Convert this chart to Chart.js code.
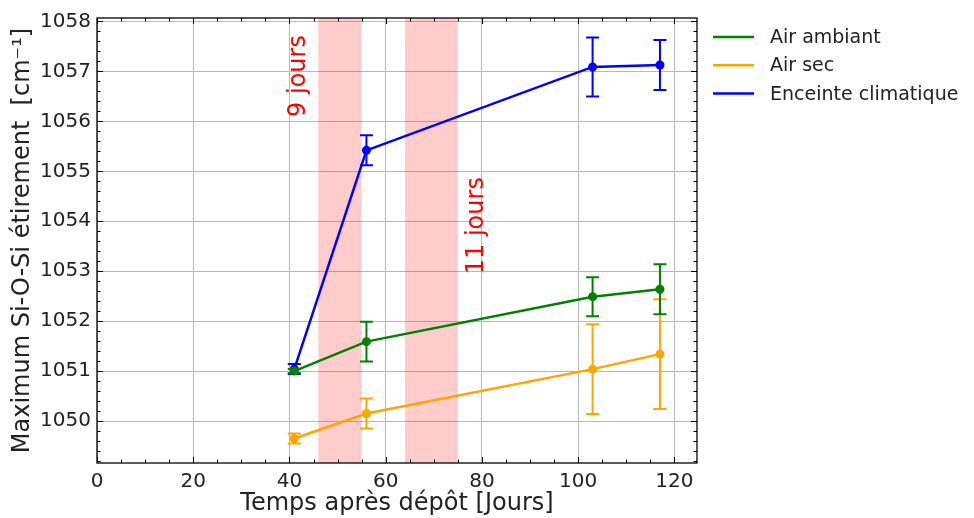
<!DOCTYPE html>
<html>
<head>
<meta charset="utf-8">
<script src="https://cdn.jsdelivr.net/npm/chart.js@4"></script>
<style>body{margin:0;background:#fff}</style>
</head>
<body>
<canvas id="canvas" width="974" height="518"></canvas>
<script>
// data
var days = [41, 56, 103, 117];
var airAmbiant = [1051.0, 1051.59, 1052.49, 1052.64];
var airAmbiantErr = [0.04, 0.4, 0.39, 0.5];
var airSec = [1049.65, 1050.15, 1051.04, 1051.34];
var airSecErr = [0.1, 0.3, 0.9, 1.1];
var enceinte = [1051.04, 1055.42, 1057.09, 1057.13];
var enceinteErr = [0.1, 0.3, 0.59, 0.5];
var seriesNames = ['Air ambiant', 'Air sec', 'Enceinte climatique'];
var seriesColors = ['green', 'orange', 'blue'];
var spans = [[46, 55], [64, 75]];
var spanLabels = ['9 jours', '11 jours'];
var spanLabelX = [43.3, 80.3];
var spanLabelY = [1056.09, 1052.94];

var FONT = '"DejaVu Sans", sans-serif';

function points(ys){
    return days.map(function(d, i){ return {x: d, y: ys[i]}; });
}
function makeSet(i, ys, errs){
    return {
        label: seriesNames[i],
        data: points(ys),
        errors: errs,
        showLine: true,
        borderColor: seriesColors[i],
        backgroundColor: seriesColors[i],
        borderWidth: 2.5,
        pointRadius: 4.5,
        pointBorderWidth: 0,
        pointBackgroundColor: seriesColors[i]
    };
}

// shaded day ranges + labels
var spanPlugin = {
    id: 'spans',
    beforeDatasetsDraw: function(chart){
        var ctx = chart.ctx, xs = chart.scales.x, a = chart.chartArea;
        ctx.save();
        ctx.fillStyle = 'rgba(255,0,0,0.2)';
        spans.forEach(function(s){
            var x0 = xs.getPixelForValue(s[0]), x1 = xs.getPixelForValue(s[1]);
            ctx.fillRect(x0, a.top, x1 - x0, a.bottom - a.top);
        });
        ctx.fillStyle = 'red';
        ctx.font = '24px ' + FONT;
        ctx.textAlign = 'left';
        ctx.textBaseline = 'alphabetic';
        spanLabels.forEach(function(t, i){
            ctx.save();
            ctx.translate(xs.getPixelForValue(spanLabelX[i]), chart.scales.y.getPixelForValue(spanLabelY[i]));
            ctx.rotate(-Math.PI / 2);
            ctx.fillText(t, 0, 0);
            ctx.restore();
        });
        ctx.restore();
    }
};

// error bars with caps
var errorPlugin = {
    id: 'errbars',
    afterDatasetDraw: function(chart, args){
        var ds = chart.data.datasets[args.index];
        var meta = args.meta, ys = chart.scales.y, ctx = chart.ctx;
        ctx.save();
        ctx.strokeStyle = ds.borderColor;
        ctx.lineWidth = 2;
        ds.data.forEach(function(p, i){
            var x = meta.data[i].x;
            var top = ys.getPixelForValue(p.y + ds.errors[i]);
            var bot = ys.getPixelForValue(p.y - ds.errors[i]);
            ctx.beginPath();
            ctx.moveTo(x, top); ctx.lineTo(x, bot);
            ctx.moveTo(x - 6.5, top); ctx.lineTo(x + 6.5, top);
            ctx.moveTo(x - 6.5, bot); ctx.lineTo(x + 6.5, bot);
            ctx.stroke();
        });
        ctx.restore();
    }
};

// frame, inward ticks (major + minor) on all sides, legend
var framePlugin = {
    id: 'frame',
    afterDraw: function(chart){
        var ctx = chart.ctx, a = chart.chartArea, xs = chart.scales.x, ys = chart.scales.y;
        ctx.save();
        ctx.strokeStyle = '#000';
        ctx.lineWidth = 1;
        ctx.beginPath();
        for (var v = 0; v <= xs.max; v += 5){
            var px = Math.round(xs.getPixelForValue(v)) + 0.5;
            var len = (v % 20 === 0) ? 6 : 3.5;
            ctx.moveTo(px, a.bottom); ctx.lineTo(px, a.bottom - len);
            ctx.moveTo(px, a.top); ctx.lineTo(px, a.top + len);
        }
        for (var k = Math.ceil(ys.min * 5); k <= ys.max * 5; k++){
            var py = Math.round(ys.getPixelForValue(k / 5)) + 0.5;
            var l2 = (k % 5 === 0) ? 6 : 3.5;
            ctx.moveTo(a.left, py); ctx.lineTo(a.left + l2, py);
            ctx.moveTo(a.right, py); ctx.lineTo(a.right - l2, py);
        }
        ctx.stroke();
        ctx.lineWidth = 1.3;
        ctx.strokeRect(a.left, a.top, a.right - a.left, a.bottom - a.top);

        // legend outside, right
        ctx.font = '19px ' + FONT;
        ctx.textBaseline = 'middle';
        ctx.textAlign = 'left';
        chart.data.datasets.forEach(function(ds, i){
            var y = 37 + i * 28.3;
            ctx.strokeStyle = ds.borderColor;
            ctx.lineWidth = 2.5;
            ctx.beginPath();
            ctx.moveTo(713, y); ctx.lineTo(754, y);
            ctx.stroke();
            ctx.fillStyle = '#222';
            ctx.fillText(ds.label, 770, y + 1);
        });
        ctx.restore();
    }
};

Chart.defaults.font.family = FONT;

new Chart(document.getElementById('canvas'), {
    type: 'scatter',
    data: {
        datasets: [
            makeSet(0, airAmbiant, airAmbiantErr),
            makeSet(1, airSec, airSecErr),
            makeSet(2, enceinte, enceinteErr)
        ]
    },
    options: {
        responsive: false,
        animation: false,
        devicePixelRatio: 1,
        layout: {padding: {top: 12, right: 277, bottom: 0, left: 0}},
        plugins: {legend: {display: false}, tooltip: {enabled: false}},
        scales: {
            x: {
                type: 'linear',
                min: 0,
                max: 124.7,
                afterFit: function(s){ s.height = 55; },
                grid: {color: '#b8b8b8', lineWidth: 1, drawTicks: false},
                border: {display: false},
                ticks: {stepSize: 20, includeBounds: false, padding: 7, color: '#222', font: {size: 20},
                    callback: function(v){ return String(v); }},
                title: {display: true, text: 'Temps après dépôt [Jours]', color: '#222', font: {size: 24}, padding: {top: 0, bottom: 0}}
            },
            y: {
                type: 'linear',
                min: 1049.16,
                max: 1058.07,
                afterFit: function(s){ s.width = 97; },
                grid: {color: '#b8b8b8', lineWidth: 1, drawTicks: false},
                border: {display: false},
                ticks: {stepSize: 1, includeBounds: false, padding: 6, color: '#222', font: {size: 20},
                    callback: function(v){ return String(v); }},
                title: {display: true, text: 'Maximum Si-O-Si étirement  [cm⁻¹]', color: '#222', font: {size: 24}, padding: {top: 8, bottom: 0}}
            }
        }
    },
    plugins: [spanPlugin, errorPlugin, framePlugin]
});
</script>
</body>
</html>
